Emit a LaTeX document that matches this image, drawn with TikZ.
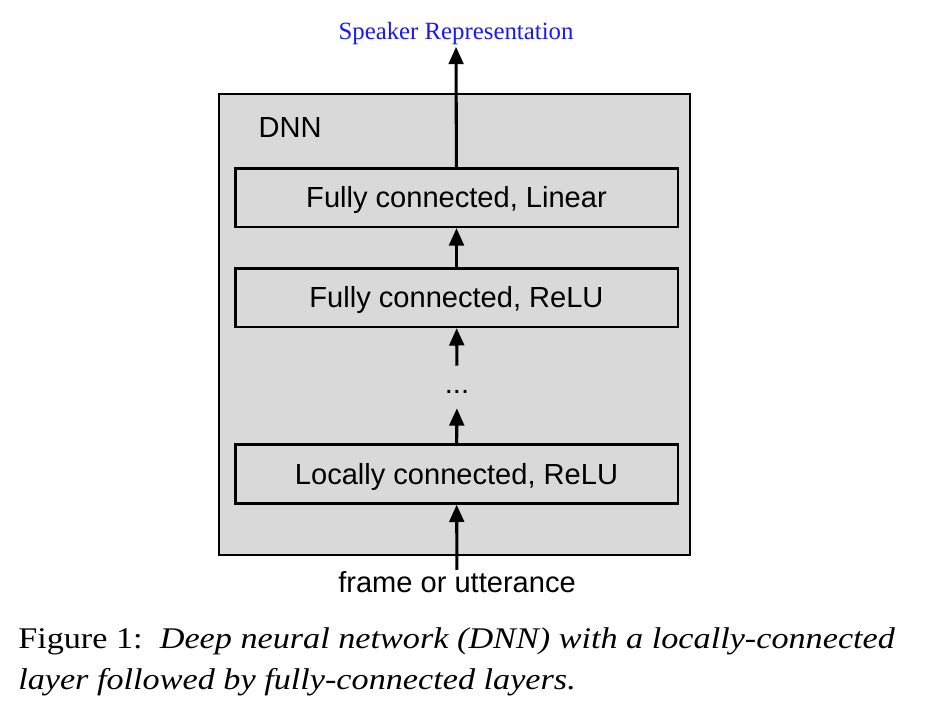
\documentclass[tikz,border=0pt]{standalone}
\usepackage{fontspec}
\setmainfont{Liberation Serif}
\newfontfamily\arialfont{Liberation Sans}
\newfontfamily\capfont[FakeStretch=1.14]{Liberation Serif}
\usetikzlibrary{arrows.meta}
\definecolor{boxgray}{RGB}{217,217,217}
\definecolor{spkblue}{RGB}{25,25,250}

\begin{document}
\begin{tikzpicture}[%
      x=0.75pt, y=-0.75pt,
      layer/.style={draw=black, fill=boxgray, line width=2pt, minimum width=332pt,
        minimum height=44pt, inner sep=0pt, text height=15.6pt, text depth=0pt,
        font=\arialfont\fontsize{21.8}{25}\selectfont},
      flow/.style={line width=2.3pt, -{Triangle[length=13pt,width=11pt]}},
      plain/.style={inner sep=1pt, font=\arialfont\fontsize{21.8}{25}\selectfont},
      ]
      \useasboundingbox [fill=white] (0,0) rectangle (930,718);

      % the DNN block
      \draw [line width=2pt, fill=boxgray] (219,94) rectangle (690,555);
      \node [plain, anchor=west] (dnn) at (257,127) {DNN};

      \node [layer] (lin) at (456.5,197.5) {Fully connected, Linear};
      \node [layer] (fc) at (456.5,297.5) {Fully connected, ReLU};
      \node [plain, minimum height=31.5pt, inner sep=0pt, text height=9pt, text depth=0pt] (dots) at (457,387) {...};
      \node [layer] (lc) at (456.5,474) {Locally connected, ReLU};

      \node [plain] (inp) at (457,582) {frame or utterance};
      \node [inner sep=1pt, text=spkblue, font=\fontsize{18.6}{22}\selectfont] (spk) at (456,34) {Speaker Representation};

      \draw [flow] (inp) -- (lc);
      \draw [flow] (lc) -- (dots);
      \draw [flow] (dots) -- (fc);
      \draw [flow] (fc) -- (lin);
      \draw [flow] (lin) -- (spk);

      % caption
      \node [anchor=base west, inner sep=0pt, font=\capfont\fontsize{22.5}{31.5}\selectfont] (cap1) at (18,648)
        {Figure 1:\ \ \textit{Deep neural network (DNN) with a locally-connected}};
      \node [anchor=base west, inner sep=0pt, font=\capfont\fontsize{22.5}{31.5}\selectfont] (cap2) at (18,689)
        {\textit{layer followed by fully-connected layers.}};
\end{tikzpicture}
\end{document}
